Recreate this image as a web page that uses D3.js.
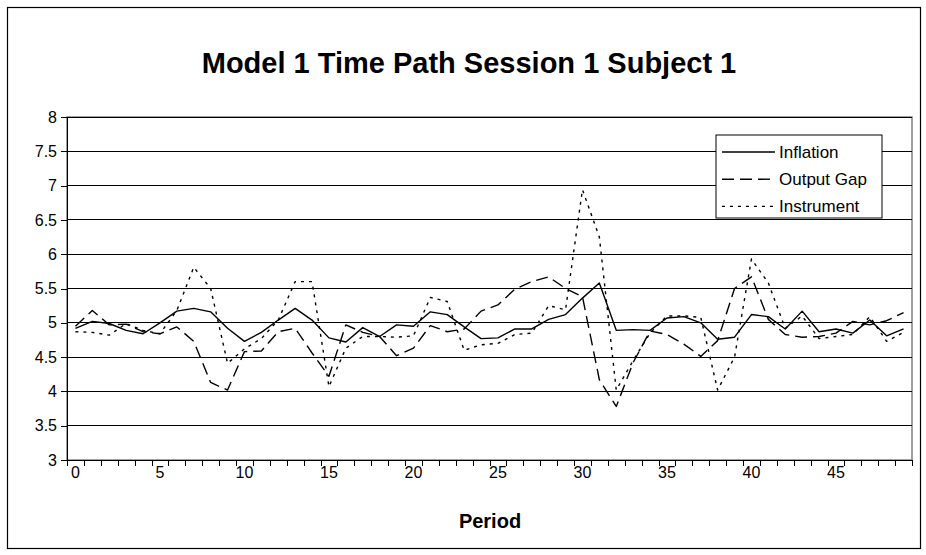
<html>
<head>
<style>
body{
	margin: 0;
	background: #fff;
}
text{
	font-family: "Liberation Sans", Arial, sans-serif;
	fill: #000;
}
.grid line{
	stroke: #000;
	shape-rendering: crispEdges;
}
.series{
	fill: none;
	stroke: #000;
	stroke-width: 1.4;
	stroke-linejoin: round;
}
</style>
<script src="https://cdn.jsdelivr.net/npm/d3@7"></script>
</head>
<body>
<div id="chart"></div>
<script>
// values, one per period
var periods = d3.range(0, 50);
var inflation = [4.92, 5.02, 4.99, 4.89, 4.84, 5.0, 5.17, 5.21, 5.16, 4.92,
	4.73, 4.86, 5.04, 5.21, 5.04, 4.78, 4.72, 4.93, 4.80, 4.97,
	4.95, 5.16, 5.12, 4.94, 4.77, 4.78, 4.91, 4.91, 5.05, 5.12,
	5.36, 5.58, 4.89, 4.90, 4.89, 5.07, 5.09, 5.0, 4.76, 4.79,
	5.12, 5.09, 4.91, 5.17, 4.87, 4.91, 4.85, 5.04, 4.81, 4.91];
var outputGap = [4.95, 5.18, 4.97, 4.98, 4.87, 4.84, 4.94, 4.73, 4.13, 4.02,
	4.58, 4.59, 4.87, 4.92, 4.56, 4.22, 4.97, 4.86, 4.80, 4.52,
	4.63, 4.96, 4.87, 4.91, 5.17, 5.26, 5.49, 5.60, 5.67, 5.50,
	5.38, 4.17, 3.78, 4.42, 4.88, 4.83, 4.69, 4.51, 4.74, 5.50,
	5.67, 5.05, 4.83, 4.79, 4.80, 4.85, 5.02, 4.97, 5.03, 5.15];
var instrument = [4.87, 4.86, 4.82, 4.99, 4.89, 4.84, 5.18, 5.81, 5.50, 4.41,
	4.62, 4.77, 5.04, 5.60, 5.60, 4.07, 4.63, 4.80, 4.80, 4.79,
	4.81, 5.37, 5.31, 4.60, 4.68, 4.70, 4.83, 4.85, 5.25, 5.19,
	6.94, 6.25, 4.02, 4.45, 4.85, 5.10, 5.10, 5.08, 4.02, 4.50,
	5.93, 5.58, 4.92, 5.10, 4.77, 4.80, 4.83, 5.09, 4.73, 4.86];
var yTicks = [3, 3.5, 4, 4.5, 5, 5.5, 6, 6.5, 7, 7.5, 8];
var xLabels = [0, 5, 10, 15, 20, 25, 30, 35, 40, 45];
var seriesNames = ["Inflation", "Output Gap", "Instrument"];

var W = 926, H = 555;
var plot = {left: 67, right: 912, top: 117, bottom: 460};

var svg = d3.select("#chart").append("svg")
	.attr("width", W)
	.attr("height", H);

// outer frame
svg.append("rect")
	.attr("x", 7.5).attr("y", 7.5)
	.attr("width", 913).attr("height", 541)
	.attr("fill", "#fff")
	.attr("stroke", "#000")
	.attr("stroke-width", 1.2);

svg.append("text")
	.attr("x", 469).attr("y", 73)
	.attr("text-anchor", "middle")
	.style("font-size", "29px")
	.style("font-weight", "bold")
	.text("Model 1 Time Path Session 1 Subject 1");

var x = d3.scaleBand().domain(periods).range([plot.left, plot.right]).padding(0);
var xEdge = d3.scaleLinear().domain([0, 50]).range([plot.left, plot.right]);
var y = d3.scaleLinear().domain([3, 8]).range([plot.bottom, plot.top]);

// plot area border (right side shows grey)
svg.append("rect")
	.attr("x", plot.left).attr("y", plot.top)
	.attr("width", plot.right - plot.left).attr("height", plot.bottom - plot.top)
	.attr("fill", "#fff")
	.attr("stroke", "#808080")
	.attr("stroke-width", 1.5);

svg.append("g")
	.attr("class", "grid")
	.selectAll("line")
	.data(yTicks.slice(1))
	.enter().append("line")
	.attr("x1", plot.left).attr("x2", plot.right)
	.attr("y1", function(d) { return y(d); })
	.attr("y2", function(d) { return y(d); });

// y axis
var yAxis = svg.append("g")
	.attr("transform", "translate(" + plot.left + ",0)")
	.call(d3.axisLeft(y).tickValues(yTicks).tickSize(6).tickPadding(4).tickFormat(function(d) { return String(d); }));
yAxis.selectAll("text").style("font-size", "16px");
yAxis.selectAll("line, path").attr("stroke", "#000").attr("shape-rendering", "crispEdges");

// x axis: marks between periods, labels every 5
var xAxis = svg.append("g")
	.attr("transform", "translate(0," + plot.bottom + ")")
	.call(d3.axisBottom(xEdge).tickValues(d3.range(0, 51)).tickSize(6).tickFormat(""));
xAxis.selectAll("line, path").attr("stroke", "#000").attr("shape-rendering", "crispEdges");

svg.append("g")
	.selectAll("text")
	.data(xLabels)
	.enter().append("text")
	.attr("x", function(d) { return x(d) + x.bandwidth() / 2; })
	.attr("y", plot.bottom + 18)
	.attr("text-anchor", "middle")
	.style("font-size", "16px")
	.text(function(d) { return d; });

svg.append("text")
	.attr("x", 490).attr("y", 528)
	.attr("text-anchor", "middle")
	.style("font-size", "20px")
	.style("font-weight", "bold")
	.text("Period");

var dashes = [null, "12,6", "3,5"];
var allSeries = [inflation, outputGap, instrument];

var line = d3.line()
	.x(function(d, i) { return x(periods[i]) + x.bandwidth() / 2; })
	.y(function(d) { return y(d); });

svg.selectAll("path.series")
	.data(allSeries)
	.enter().append("path")
	.attr("class", "series")
	.attr("stroke-dasharray", function(d, i) { return dashes[i]; })
	.attr("d", line);

// legend
var legend = svg.append("g").attr("transform", "translate(716,135)");
legend.append("rect")
	.attr("width", 166).attr("height", 83)
	.attr("fill", "#fff")
	.attr("stroke", "#000")
	.attr("stroke-width", 1);

var row = legend.selectAll("g.row")
	.data(seriesNames)
	.enter().append("g")
	.attr("class", "row")
	.attr("transform", function(d, i) { return "translate(0," + (17 + i * 27.2) + ")"; });

row.append("line")
	.attr("x1", 6).attr("x2", 59)
	.attr("stroke", "#000")
	.attr("stroke-width", 1.4)
	.attr("stroke-dasharray", function(d, i) { return dashes[i]; });

row.append("text")
	.attr("x", 63).attr("dy", "0.35em")
	.style("font-size", "17px")
	.text(function(d) { return d; });
</script>
</body>
</html>
